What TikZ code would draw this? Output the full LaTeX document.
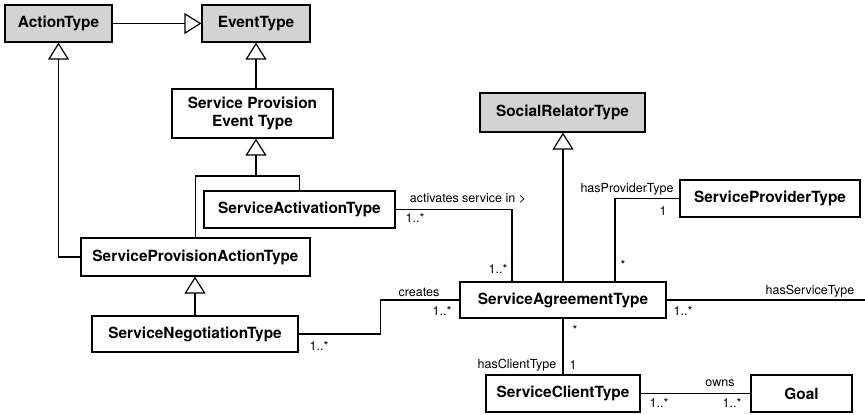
\documentclass[tikz,border=0pt]{standalone}
\usepackage{fontspec}
\setmainfont{TeX Gyre Heros}
\usetikzlibrary{arrows.meta}
\definecolor{classgray}{RGB}{211,211,211}
\begin{document}
\begin{tikzpicture}[x=1pt,y=-1pt,
  cls/.style={draw, line width=1.2pt, inner sep=0pt, align=center,
    font=\fontsize{15.4}{18}\selectfont\bfseries},
  abstractcls/.style={cls, fill=classgray},
  gen/.style={line width=1.2pt, -{Triangle[open,length=17pt,width=21pt]}},
  link/.style={line width=1.2pt},
  lbl/.style={font=\fontsize{12.5}{14}\selectfont, inner sep=0pt}]
\useasboundingbox (0,0) rectangle (865,415);

% classes
\node[abstractcls, minimum width=107pt, minimum height=37pt] (act) at (58.5,23.5) {ActionType};
\node[abstractcls, minimum width=108pt, minimum height=37pt] (evt) at (256,23.5) {EventType};
\node[cls, minimum width=161pt, minimum height=49pt] (spe) at (252.5,113.5) {Service Provision\\Event Type};
\node[cls, minimum width=191pt, minimum height=37pt] (sat) at (299.5,209.5) {ServiceActivationType};
\node[cls, minimum width=229pt, minimum height=38pt] (spa) at (195.5,257) {ServiceProvisionActionType};
\node[cls, minimum width=206pt, minimum height=36pt] (snt) at (195,334) {ServiceNegotiationType};
\node[abstractcls, minimum width=165pt, minimum height=39pt] (srt) at (562.5,112.5) {SocialRelatorType};
\node[cls, minimum width=206pt, minimum height=36pt] (sag) at (563,300) {ServiceAgreementType};
\node[cls, minimum width=180pt, minimum height=37pt] (spt) at (770,198.5) {ServiceProviderType};
\node[cls, minimum width=154pt, minimum height=37pt] (sct) at (563,393.5) {ServiceClientType};
\node[cls, minimum width=101pt, minimum height=37pt] (goal) at (801.5,393.5) {Goal};

% generalizations
\coordinate (join) at (256,176);
\draw[gen] (act.east) -- (evt.west);
\draw[gen] (spa.west) -| (act.south);
\draw[gen] (evt.south |- spe.north) -- (evt.south);
\draw[link] (spa.north) |- (join);
\draw[link] (sat.north) |- (join);
\draw[gen] (join) -- (join |- spe.south);
\draw[gen] (snt.north) -- (snt.north |- spa.south);
\draw[gen] (sag.north) -- (sag.north |- srt.south);

% associations
\coordinate (stEnd) at (865,300);
\draw[link] (sat.east) -| ([xshift=-51pt]sag.north);
\draw[link] (spt.west) -| ([xshift=52pt]sag.north);
\draw[link] (sag.east) -- (stEnd);
\draw[link] (snt.east) -- ++(82,0) |- (sag.west);
\draw[link] (sag.south) -- (sct.north);
\draw[link] (sct.east) -- (goal.west);

% association labels and multiplicities
\node[lbl] (l1) at (468,199) {activates service in >};
\node[lbl] (l2) at (415,218) {1..*};
\node[lbl] (l3) at (498,269) {1..*};
\node[lbl] (l4) at (627,189) {hasProviderType};
\node[lbl] (l5) at (663,211) {1};
\node[lbl] (l6) at (623,265) {*};
\node[lbl] (l7) at (810,291) {hasServiceType};
\node[lbl] (l8) at (683,311) {1..*};
\node[lbl] (l9) at (419,292) {creates};
\node[lbl] (l10) at (442,311) {1..*};
\node[lbl] (l11) at (319,346) {1..*};
\node[lbl] (l12) at (575,330) {*};
\node[lbl] (l13) at (517,365) {hasClientType};
\node[lbl] (l14) at (573,365) {1};
\node[lbl] (l15) at (720,383) {owns};
\node[lbl] (l16) at (659,403) {1..*};
\node[lbl] (l17) at (732,403) {1..*};
\end{tikzpicture}
\end{document}
